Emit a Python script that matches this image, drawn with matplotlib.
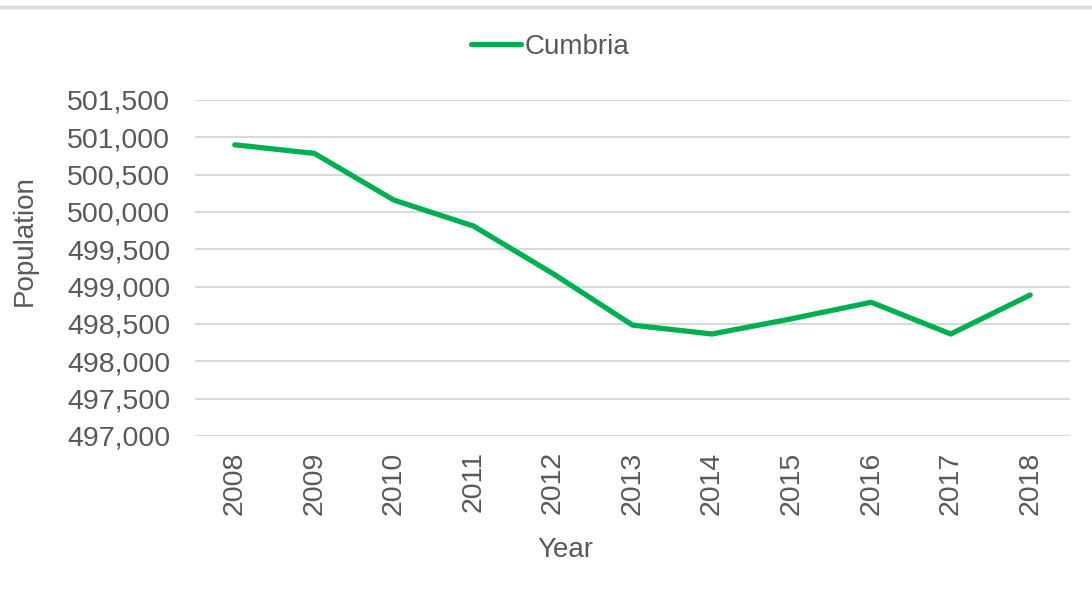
import matplotlib.pyplot as plt
from matplotlib.lines import Line2D
from matplotlib.ticker import FuncFormatter

# Cumbria population by year
years = ['2008', '2009', '2010', '2011', '2012', '2013', '2014', '2015', '2016', '2017', '2018']
population = [500900, 500785, 500160, 499812, 499175, 498485, 498366, 498570, 498791, 498366, 498889]
series_name = 'Cumbria'

plt.rcParams['font.family'] = ['Liberation Sans', 'DejaVu Sans']
text_col = '#595959'
grid_col = '#D9D9D9'
line_col = '#00B050'

fig = plt.figure(figsize=(10.92, 5.89), dpi=100)
ax = fig.add_axes([195 / 1092, (589 - 436) / 589, 875 / 1092, 336 / 589])

x = range(len(years))
ax.plot(x, population, color=line_col, lw=3.8, solid_capstyle='round', label=series_name)

ax.set_xlim(-0.5, len(years) - 0.5)
ax.set_ylim(497000, 501500)
ax.set_yticks(range(497000, 501501, 500))
ax.yaxis.set_major_formatter(FuncFormatter(lambda v, p: f'{int(v):,}'))
ax.set_xticks(list(x))
ax.set_xticklabels(years, rotation=90)

ax.grid(axis='y', color=grid_col, lw=1.5)
ax.set_axisbelow(True)
for s in ax.spines.values():
    s.set_visible(False)
ax.tick_params(axis='both', length=0, labelsize=20.5, labelcolor=text_col)
ax.tick_params(axis='y', pad=18)
ax.tick_params(axis='x', pad=11)

ax.set_ylabel('Population', fontsize=20, color=text_col, va='center')
ax.yaxis.set_label_coords(-0.194, 0.583)
ax.set_xlabel('Year', fontsize=20, color=text_col, va='center')
ax.xaxis.set_label_coords(0.423, -0.339)

fig.legend(loc='center', bbox_to_anchor=(550 / 1092, 1 - 47 / 589), frameon=False,
           fontsize=20, labelcolor=text_col, handlelength=1.8, handletextpad=0.15)

# thin frame line at the top of the chart
fig.add_artist(Line2D([0, 1], [1 - 7 / 589, 1 - 7 / 589], color=grid_col, lw=2.5,
                      transform=fig.transFigure))

fig.savefig('out.png', dpi=100)
